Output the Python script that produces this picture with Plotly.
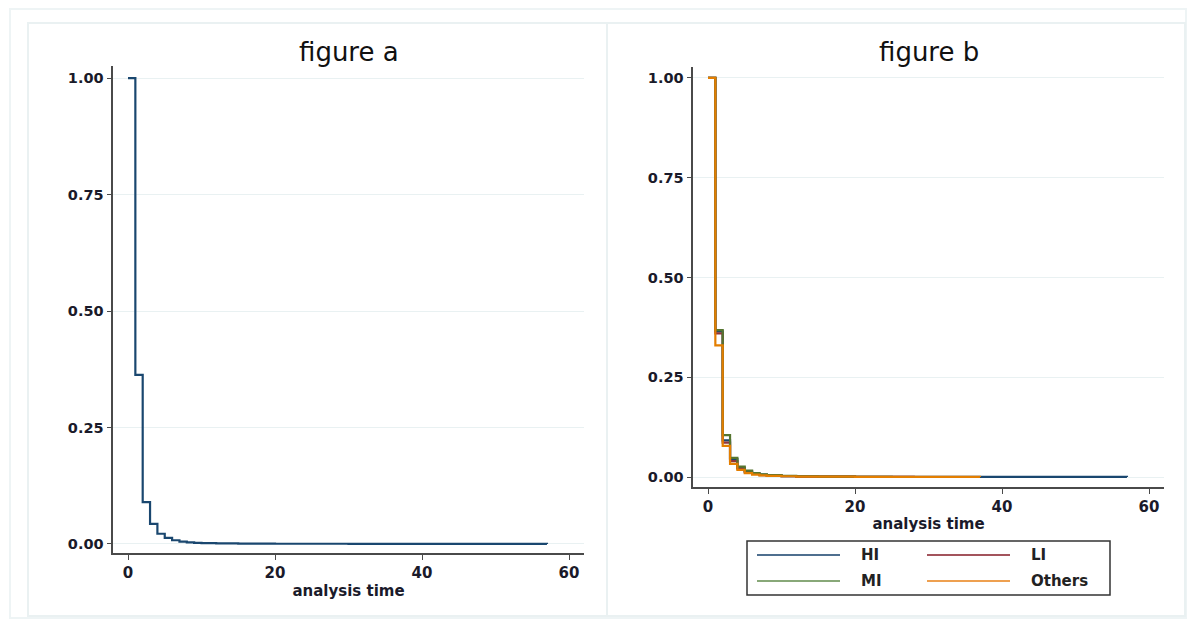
import plotly.graph_objects as go

W, H = 1194, 624

# ---------------- data ----------------
# figure a: overall Kaplan-Meier survival estimate
time_all = [0, 1, 2, 3, 4, 5, 6, 7, 8, 9, 10, 12, 15, 20, 30, 57]
surv_all = [1.0, 0.363, 0.090, 0.043, 0.022, 0.013, 0.008, 0.005, 0.0035,
            0.0025, 0.0018, 0.0012, 0.0008, 0.0005, 0.0003, 0.0002]

# figure b: by group
group_names = ["HI", "LI", "MI", "Others"]
time_hi = [0, 1, 2, 3, 4, 5, 6, 7, 8, 10, 12, 15, 20, 30, 57]
surv_hi = [1.0, 0.365, 0.092, 0.045, 0.023, 0.014, 0.009, 0.006, 0.004,
           0.0025, 0.0015, 0.001, 0.0006, 0.0003, 0.0002]
time_li = [0, 1, 2, 3, 4, 5, 6, 7, 8, 10, 12, 15, 20, 28]
surv_li = [1.0, 0.360, 0.086, 0.040, 0.021, 0.012, 0.008, 0.005, 0.0035,
           0.002, 0.0012, 0.0008, 0.0005, 0.0003]
time_mi = [0, 1, 2, 3, 4, 5, 6, 7, 8, 10, 12, 15, 20, 25]
surv_mi = [1.0, 0.368, 0.105, 0.048, 0.026, 0.016, 0.010, 0.007, 0.005,
           0.003, 0.002, 0.0012, 0.0007, 0.0004]
time_ot = [0, 1, 2, 3, 4, 5, 6, 7, 8, 10, 12, 15, 20, 37]
surv_ot = [1.0, 0.330, 0.078, 0.033, 0.018, 0.010, 0.006, 0.004, 0.003,
           0.002, 0.0012, 0.0008, 0.0005, 0.0003]

y_ticks = [0, 0.25, 0.5, 0.75, 1.0]
y_tick_labels = ["0.00", "0.25", "0.50", "0.75", "1.00"]
x_ticks = [0, 20, 40, 60]
x_tick_labels = ["0", "20", "40", "60"]

panel_titles = ["figure a", "figure b"]
x_title = "analysis time"

# ---------------- style ----------------
colors = ["#1a476f", "#90353b", "#55752f", "#e37e00"]
legend_colors = ["#4f6f8f", "#a3545c", "#88a878", "#eea050"]
FONT = "DejaVu Sans"
TXT = "#1a1a2a"
GRID = "#e9f1f2"
AXIS = "#4a4a4a"

fig = go.Figure()

fig.add_trace(go.Scatter(x=time_all, y=surv_all, mode="lines", line_shape="hv",
                         line=dict(color=colors[0], width=2.2),
                         xaxis="x", yaxis="y", showlegend=False, name="all"))

series_b = [(time_hi, surv_hi), (time_li, surv_li), (time_mi, surv_mi), (time_ot, surv_ot)]
for (t, s), name, c in zip(series_b, group_names, colors):
    fig.add_trace(go.Scatter(x=t, y=s, mode="lines", line_shape="hv",
                             line=dict(color=c, width=2.2),
                             xaxis="x2", yaxis="y2", showlegend=False, name=name))

def px(x):
    return x / W

def py(y):
    return 1 - y / H

base_axis = dict(showline=True, linecolor=AXIS, linewidth=1.6, ticks="outside",
                 ticklen=5, tickwidth=1.4, tickcolor=AXIS, zeroline=False)
xfont = dict(family=FONT, size=15, color=TXT, weight="bold")
yfont = dict(family=FONT, size=14.5, color=TXT, weight="bold")
tfont = dict(family=FONT, size=15, color=TXT, weight="bold")

fig.update_layout(
    width=W, height=H,
    margin=dict(l=0, r=0, t=0, b=0),
    paper_bgcolor="white", plot_bgcolor="white",
    showlegend=False,
    xaxis=dict(domain=[px(113.3), px(583.7)], range=[-2, 62], anchor="y",
               tickvals=x_ticks, ticktext=x_tick_labels, showgrid=False,
               tickfont=xfont, title=dict(text=x_title, standoff=4, font=tfont),
               **base_axis),
    yaxis=dict(domain=[py(553.3), py(66.4)], range=[-0.02, 1.025], anchor="x",
               tickvals=y_ticks, ticktext=y_tick_labels, showgrid=True,
               gridcolor=GRID, gridwidth=1, tickfont=yfont, **base_axis),
    xaxis2=dict(domain=[px(693.3), px(1163.7)], range=[-2, 62], anchor="y2",
                tickvals=x_ticks, ticktext=x_tick_labels, showgrid=False,
                tickfont=xfont, title=dict(text=x_title, standoff=4, font=tfont),
                **base_axis),
    yaxis2=dict(domain=[py(487), py(66.8)], range=[-0.025, 1.028], anchor="x2",
                tickvals=y_ticks, ticktext=y_tick_labels, showgrid=True,
                gridcolor=GRID, gridwidth=1, tickfont=yfont, **base_axis),
)

# titles
for title, cx in zip(panel_titles, [349, 928.5]):
    fig.add_annotation(text=title, x=px(cx), y=py(52), xref="paper", yref="paper",
                       showarrow=False, xanchor="center", yanchor="middle",
                       font=dict(family=FONT, size=26, color="#111"))

# frames
shapes = [
    dict(type="rect", xref="paper", yref="paper", x0=px(10), x1=px(1186), y0=py(618), y1=py(9),
         line=dict(color="#eef4f5", width=2), fillcolor="rgba(0,0,0,0)"),
    dict(type="rect", xref="paper", yref="paper", x0=px(28), x1=px(607), y0=py(616), y1=py(23),
         line=dict(color="#eaf1f2", width=2), fillcolor="rgba(0,0,0,0)"),
    dict(type="rect", xref="paper", yref="paper", x0=px(607), x1=px(1185), y0=py(616), y1=py(23),
         line=dict(color="#eaf1f2", width=2), fillcolor="rgba(0,0,0,0)"),
    # legend box
    dict(type="rect", xref="paper", yref="paper", x0=px(747), x1=px(1110), y0=py(595), y1=py(541),
         line=dict(color="#333", width=1.5), fillcolor="white"),
]

# legend entries (2 columns: HI, LI / MI, Others)
legend_pos = [(757, 555), (927, 555), (757, 581), (927, 581)]
for name, c, (lx, ly) in zip(group_names, legend_colors, legend_pos):
    shapes.append(dict(type="line", xref="paper", yref="paper", x0=px(lx), x1=px(lx + 83),
                       y0=py(ly), y1=py(ly), line=dict(color=c, width=2)))
    fig.add_annotation(text=name, x=px(lx + 102), y=py(ly), xref="paper", yref="paper",
                       showarrow=False, xanchor="left", yanchor="middle",
                       font=dict(family=FONT, size=15, color="#222", weight="bold"))

fig.update_layout(shapes=shapes)

fig.write_html("out.html", config={"displayModeBar": False},
               post_script="document.body.style.margin='0';")
